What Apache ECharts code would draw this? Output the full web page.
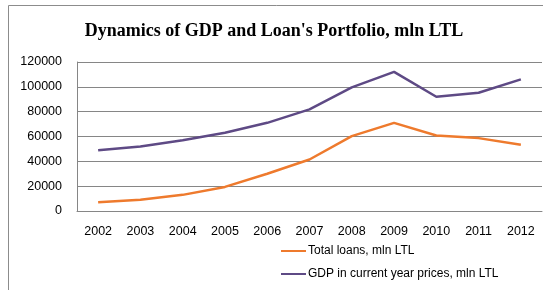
<!DOCTYPE html>
<html>
<head>
<meta charset="utf-8">
<script src="https://cdn.jsdelivr.net/npm/echarts@6/dist/echarts.min.js"></script>
<style>
  html, body { margin: 0; padding: 0; background: #fff; }
  #chart { width: 543px; height: 290px; }
</style>
</head>
<body>
<div id="chart"></div>
<script>
// data
const years = ["2002", "2003", "2004", "2005", "2006", "2007", "2008", "2009", "2010", "2011", "2012"];
const totalLoans = [7000, 9000, 13000, 19400, 30000, 41500, 60300, 71000, 60800, 58700, 53300];
const gdp = [49000, 52000, 57000, 63000, 71000, 81800, 99600, 112000, 92000, 95200, 106000];

const chart = echarts.init(document.getElementById("chart"));

const labelFont = "Liberation Sans";

chart.setOption({
    animation: false,
    title: {
        text: "Dynamics of GDP and Loan's Portfolio, mln LTL",
        left: 269,
        top: 17,
        textAlign: "center",
        textStyle: {
            fontFamily: "Liberation Serif",
            fontWeight: "bold",
            fontSize: 18,
            color: "#000"
        }
    },
    grid: {
        left: 77,
        right: 1,
        top: 62,
        bottom: 79
    },
    legend: {
        orient: "vertical",
        left: 281,
        top: 245,
        padding: 0,
        itemWidth: 25,
        itemHeight: 2,
        itemGap: 11,
        icon: "rect",
        textStyle: { fontFamily: labelFont, fontSize: 12, color: "#000", padding: [0, 0, 0, -3] },
        data: ["Total loans, mln LTL", "GDP in current year prices, mln LTL"]
    },
    xAxis: {
        type: "category",
        data: years,
        boundaryGap: true,
        axisLine: { lineStyle: { color: "#868686", width: 1 } },
        axisTick: { show: false },
        axisLabel: { fontFamily: labelFont, fontSize: 12.5, color: "#000", margin: 14 }
    },
    yAxis: {
        type: "value",
        min: 0,
        max: 120000,
        interval: 20000,
        axisLine: { show: true, lineStyle: { color: "#868686", width: 1 } },
        axisTick: { show: false },
        axisLabel: {
            fontFamily: labelFont, fontSize: 12.5, color: "#000", margin: 15,
            formatter: (v) => String(v)
        },
        splitLine: { lineStyle: { color: "#868686", width: 1 } }
    },
    series: [
        {
            name: "Total loans, mln LTL",
            type: "line",
            data: totalLoans,
            symbol: "none",
            lineStyle: { color: "#EE7A2D", width: 2.5 },
            itemStyle: { color: "#EE7A2D" }
        },
        {
            name: "GDP in current year prices, mln LTL",
            type: "line",
            data: gdp,
            symbol: "none",
            lineStyle: { color: "#5E4A85", width: 2.5 },
            itemStyle: { color: "#5E4A85" }
        }
    ],
    graphic: [
        {
            type: "rect",
            shape: { x: 8.5, y: 5.5, width: 560, height: 300 },
            style: { fill: "none", stroke: "#8c8c8c", lineWidth: 1 },
            silent: true
        }
    ]
});
</script>
</body>
</html>
